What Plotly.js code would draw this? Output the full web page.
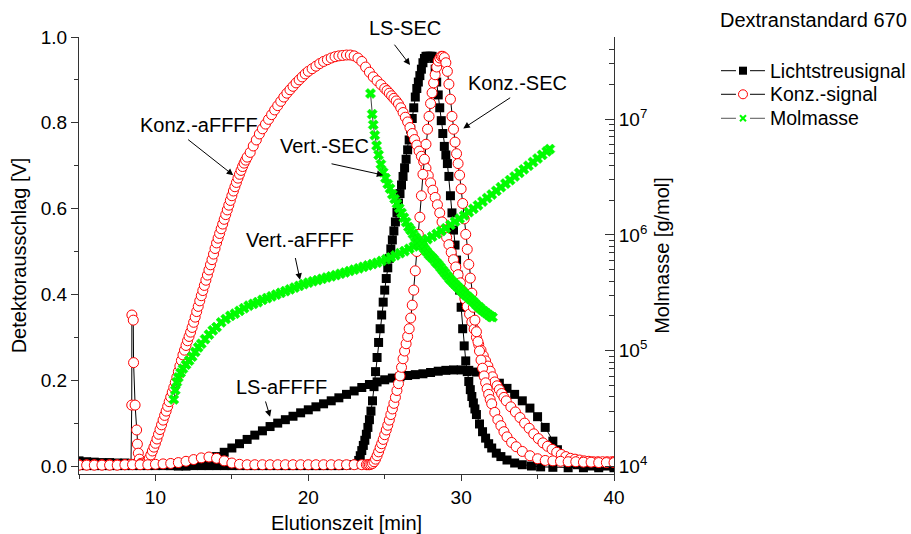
<!DOCTYPE html>
<html>
<head>
<meta charset="utf-8">
<script src="https://cdn.plot.ly/plotly-3.0.1.min.js"></script>
<style>html,body{margin:0;padding:0;background:#fff;}#chart{width:911px;height:534px;}</style>
</head>
<body>
<div id="chart"></div>
<script>
// ---------- data ----------
const seriesNames = ['Lichtstreusignal', 'Konz.-signal', 'Molmasse'];
const chartTitle = 'Dextranstandard 670';

// Light scattering, aFFFF run
const lsAfX = [5,5.5,6,6.5,7,7.5,8,8.5,9,9.5,10,10.5,11,11.5,12,12.5,13,13.5,14,14.5,15,15.5,16,16.5,17,17.5,18,18.5,19,19.5,20,20.5,21,21.5,22,22.5,23,23.5,24,24.5,25,25.5,26,26.5,27,27.5,28,28.5,29,29.5,30,30.5,31,31.5,32,32.5,33,33.5,34,34.5,35,35.5,36,36.3,36.6,36.9,37.2,37.6,38,38.5,39,39.5,40];
const lsAfY = [0.012,0.01,0.009,0.008,0.008,0.007,0.007,0.006,0.005,0.004,0.003,0.002,0.001,0.0,0.0,0.002,0.006,0.013,0.022,0.032,0.042,0.052,0.062,0.072,0.082,0.092,0.1,0.108,0.116,0.124,0.131,0.138,0.145,0.152,0.159,0.167,0.175,0.183,0.19,0.196,0.201,0.205,0.208,0.211,0.213,0.215,0.218,0.221,0.223,0.224,0.224,0.223,0.219,0.212,0.203,0.193,0.181,0.167,0.152,0.135,0.115,0.09,0.058,0.038,0.022,0.012,0.006,0.003,0.001,0.0,0.0,0.0,0.0];

// Light scattering, SEC run
const lsSecX = [5,5.5,6,6.5,7,7.5,8,8.5,9,9.5,10,10.5,11,11.5,12,12.5,13,13.5,14,14.5,15,15.5,16,16.5,17,17.5,18,18.5,19,19.5,20,20.5,21,21.5,22,22.5,23,23.2,23.3,23.4,23.5,23.6,23.7,23.8,23.9,24.0,24.1,24.2,24.3,24.4,24.5,24.6,24.7,24.8,24.9,25.0,25.1,25.2,25.3,25.4,25.5,25.6,25.7,25.8,25.9,26.0,26.1,26.2,26.3,26.4,26.5,26.6,26.7,26.8,26.9,27.0,27.1,27.2,27.3,27.4,27.5,27.6,27.7,27.8,27.9,28.0,28.1,28.2,28.3,28.4,28.5,28.6,28.7,28.8,28.9,29.0,29.1,29.2,29.3,29.4,29.5,29.6,29.7,29.8,29.9,30.0,30.1,30.2,30.3,30.4,30.5,30.6,30.7,30.8,30.9,31.0,31.2,31.4,31.6,31.8,32.0,32.3,32.6,33.0,33.5,34.0,34.6,35.2,36,37,38,39,40];
const lsSecY = [0.001,0.001,0.001,0.001,0.001,0.001,0.001,0.001,0.001,0.001,0.001,0.001,0.001,0.001,0.001,0.001,0.001,0.001,0.001,0.001,0.001,0.001,0.001,0.001,0.001,0.001,0.001,0.001,0.001,0.001,0.001,0.001,0.001,0.001,0.001,0.002,0.003,0.005,0.013,0.024,0.036,0.048,0.06,0.074,0.09,0.108,0.128,0.152,0.185,0.22,0.253,0.288,0.32,0.352,0.382,0.41,0.437,0.462,0.484,0.506,0.527,0.548,0.569,0.591,0.613,0.635,0.655,0.675,0.695,0.715,0.737,0.76,0.785,0.81,0.835,0.86,0.88,0.895,0.91,0.925,0.94,0.95,0.955,0.955,0.955,0.955,0.955,0.95,0.925,0.895,0.865,0.835,0.805,0.775,0.745,0.725,0.705,0.675,0.63,0.59,0.55,0.515,0.48,0.445,0.41,0.37,0.32,0.28,0.245,0.22,0.197,0.178,0.162,0.147,0.133,0.12,0.098,0.08,0.065,0.052,0.042,0.03,0.022,0.014,0.007,0.003,0.0,-0.002,-0.003,-0.004,-0.004,-0.004,-0.004];

// Concentration, aFFFF run (incl. void peak near 8.5 min)
const kAfX = [5,5.5,6,6.5,7,7.5,8,8.4,8.45,8.46,8.55,8.57,8.67,8.77,8.82,8.88,8.95,9.05,9.1,9.2,9.3,9.4,9.5,9.6,9.7,9.8,9.9,10.0,10.1,10.2,10.3,10.4,10.5,10.6,10.7,10.8,10.9,11.0,11.1,11.2,11.3,11.4,11.5,11.6,11.7,11.8,11.9,12.0,12.1,12.2,12.3,12.4,12.5,12.6,12.7,12.8,12.9,13.0,13.1,13.2,13.3,13.4,13.5,13.6,13.7,13.8,13.9,14.0,14.1,14.2,14.3,14.4,14.5,14.6,14.7,14.8,14.9,15.0,15.1,15.2,15.3,15.4,15.5,15.6,15.7,15.8,15.9,16.0,16.2,16.4,16.6,16.8,17.0,17.2,17.4,17.6,17.8,18.0,18.2,18.4,18.6,18.8,19.0,19.2,19.4,19.6,19.8,20.0,20.25,20.5,20.75,21.0,21.25,21.5,21.75,22.0,22.25,22.5,22.75,23.0,23.25,23.5,23.75,24.0,24.25,24.5,24.75,25.0,25.15,25.3,25.45,25.6,25.75,25.9,26.05,26.2,26.35,26.5,26.65,26.8,26.95,27.1,27.25,27.4,27.55,27.7,27.85,28.0,28.15,28.3,28.45,28.6,28.75,28.9,29.05,29.2,29.35,29.5,29.65,29.8,29.95,30.1,30.25,30.4,30.55,30.7,30.85,31.0,31.15,31.3,31.45,31.6,31.75,31.9,32.05,32.2,32.35,32.5,32.65,32.8,32.95,33.25,33.55,33.85,34.15,34.45,34.75,35.05,35.35,35.65,35.95,36.25,36.55,36.85,37.15,37.45,37.75,38.05,38.35,38.65,38.95,39.25,39.55,39.85,40.0];
const kAfY = [0.003,0.003,0.003,0.003,0.003,0.003,0.003,0.004,0.142,0.352,0.34,0.241,0.142,0.084,0.051,0.03,0.016,0.006,0.006,0.007,0.008,0.009,0.012,0.018,0.026,0.035,0.044,0.053,0.063,0.074,0.085,0.096,0.107,0.118,0.128,0.139,0.15,0.161,0.172,0.183,0.195,0.207,0.22,0.233,0.246,0.259,0.27,0.281,0.292,0.302,0.312,0.323,0.335,0.347,0.36,0.372,0.385,0.397,0.409,0.421,0.433,0.445,0.457,0.469,0.481,0.494,0.507,0.52,0.531,0.542,0.553,0.564,0.575,0.586,0.597,0.608,0.619,0.63,0.641,0.651,0.661,0.671,0.68,0.689,0.698,0.706,0.713,0.72,0.731,0.746,0.76,0.774,0.786,0.797,0.808,0.819,0.83,0.84,0.85,0.86,0.869,0.877,0.885,0.893,0.9,0.907,0.914,0.92,0.926,0.932,0.938,0.943,0.947,0.951,0.954,0.956,0.957,0.958,0.958,0.956,0.951,0.943,0.93,0.918,0.907,0.898,0.889,0.88,0.875,0.869,0.863,0.857,0.851,0.844,0.835,0.824,0.813,0.802,0.789,0.775,0.761,0.748,0.734,0.722,0.709,0.694,0.677,0.66,0.643,0.626,0.609,0.59,0.569,0.55,0.533,0.516,0.498,0.481,0.464,0.446,0.427,0.408,0.389,0.372,0.354,0.336,0.319,0.3,0.283,0.27,0.257,0.245,0.233,0.221,0.208,0.196,0.187,0.178,0.169,0.16,0.152,0.138,0.126,0.113,0.1,0.088,0.075,0.064,0.054,0.046,0.039,0.032,0.027,0.022,0.018,0.016,0.014,0.012,0.011,0.01,0.01,0.01,0.01,0.01,0.01];

// Concentration, SEC run
const kSecX = [5,5.5,6,6.5,7,7.5,8,8.5,9,9.5,10,10.5,11,11.5,12,12.5,13,13.5,14,14.5,15,15.5,16,16.5,17,17.5,18,18.5,19,19.5,20,20.5,21,21.5,22,22.5,23,23.5,23.8,23.9,24.0,24.1,24.2,24.3,24.4,24.5,24.6,24.7,24.8,24.9,25.0,25.1,25.2,25.3,25.4,25.5,25.6,25.7,25.8,25.9,26.0,26.1,26.2,26.3,26.4,26.5,26.6,26.7,26.8,26.9,27.0,27.1,27.2,27.3,27.4,27.5,27.6,27.7,27.8,27.9,28.0,28.1,28.2,28.3,28.4,28.5,28.6,28.7,28.8,28.9,29.0,29.1,29.2,29.3,29.4,29.5,29.6,29.7,29.8,29.9,30.0,30.1,30.2,30.3,30.4,30.5,30.6,30.7,30.8,30.9,31.0,31.1,31.2,31.3,31.4,31.5,31.6,31.7,31.8,31.9,32.0,32.2,32.4,32.6,32.8,33.0,33.3,33.6,34.0,34.5,35.0,35.5,36.0,36.5,37.0,37.5,38.0,38.5,39.0,39.5,40.0];
const kSecY = [0.002,0.002,0.002,0.002,0.002,0.002,0.003,0.003,0.003,0.003,0.004,0.005,0.006,0.008,0.011,0.015,0.019,0.021,0.018,0.012,0.007,0.004,0.003,0.003,0.003,0.003,0.003,0.003,0.003,0.003,0.003,0.003,0.003,0.003,0.003,0.003,0.003,0.003,0.003,0.003,0.003,0.004,0.006,0.01,0.016,0.024,0.033,0.043,0.052,0.062,0.073,0.084,0.095,0.107,0.12,0.133,0.146,0.16,0.176,0.192,0.21,0.23,0.25,0.268,0.285,0.302,0.32,0.345,0.375,0.41,0.455,0.5,0.54,0.58,0.63,0.68,0.715,0.75,0.785,0.815,0.845,0.87,0.893,0.912,0.93,0.944,0.951,0.955,0.955,0.952,0.94,0.92,0.89,0.855,0.815,0.785,0.755,0.728,0.705,0.678,0.646,0.612,0.576,0.54,0.505,0.47,0.438,0.403,0.37,0.34,0.313,0.29,0.268,0.247,0.228,0.21,0.194,0.18,0.167,0.155,0.145,0.125,0.108,0.094,0.08,0.068,0.055,0.045,0.034,0.024,0.017,0.013,0.012,0.011,0.01,0.01,0.009,0.009,0.008,0.008,0.008];

// Molar mass [g/mol], aFFFF run
const mAfX = [11.2,11.3,11.4,11.5,11.65,11.8,12.0,12.2,12.4,12.6,12.8,13.0,13.25,13.5,13.75,14.0,14.3,14.6,14.9,15.2,15.5,15.8,16.1,16.4,16.7,17.0,17.3,17.6,17.9,18.2,18.5,18.8,19.1,19.4,19.7,20.0,20.3,20.6,20.9,21.2,21.5,21.8,22.1,22.4,22.7,23.0,23.3,23.6,23.9,24.2,24.5,24.8,25.1,25.4,25.7,26.0,26.3,26.6,26.9,27.2,27.5,27.8,28.1,28.4,28.7,29.0,29.3,29.6,29.9,30.2,30.5,30.8,31.1,31.4,31.7,32.0,32.3,32.6,32.9,33.2,33.5,33.8,34.1,34.4,34.7,35.0,35.3,35.6,35.8];
const mAfY = [3.80e4,4.57e4,5.37e4,5.89e4,6.46e4,7.0e4,7.59e4,8.22e4,8.91e4,9.77e4,1.07e5,1.15e5,1.26e5,1.38e5,1.50e5,1.60e5,1.76e5,1.88e5,2.0e5,2.09e5,2.21e5,2.33e5,2.45e5,2.54e5,2.63e5,2.75e5,2.85e5,2.95e5,3.05e5,3.16e5,3.27e5,3.39e5,3.51e5,3.63e5,3.76e5,3.87e5,3.98e5,4.07e5,4.18e5,4.29e5,4.39e5,4.50e5,4.62e5,4.74e5,4.88e5,5.01e5,5.15e5,5.30e5,5.45e5,5.60e5,5.75e5,5.96e5,6.17e5,6.40e5,6.67e5,6.95e5,7.24e5,7.59e5,7.94e5,8.34e5,8.75e5,9.18e5,9.66e5,1.02e6,1.08e6,1.14e6,1.22e6,1.30e6,1.38e6,1.47e6,1.57e6,1.68e6,1.80e6,1.94e6,2.08e6,2.23e6,2.40e6,2.58e6,2.77e6,2.97e6,3.19e6,3.43e6,3.68e6,3.95e6,4.25e6,4.56e6,4.90e6,5.25e6,5.50e6];

// Molar mass [g/mol], SEC run
const mSecX = [24.07,24.18,24.25,24.35,24.47,24.6,24.75,24.9,25.05,25.2,25.35,25.5,25.65,25.8,25.95,26.1,26.25,26.4,26.55,26.7,26.85,27.0,27.15,27.3,27.45,27.6,27.75,27.9,28.05,28.2,28.35,28.5,28.65,28.8,28.95,29.1,29.25,29.4,29.55,29.7,29.85,30.0,30.15,30.3,30.45,30.6,30.75,30.9,31.05,31.2,31.35,31.5,31.65,31.8,31.95,32.05];
const mSecY = [1.66e7,1.10e7,8.91e6,7.24e6,5.89e6,4.90e6,4.07e6,3.47e6,3.09e6,2.75e6,2.51e6,2.24e6,2.04e6,1.86e6,1.70e6,1.55e6,1.41e6,1.29e6,1.17e6,1.10e6,1.02e6,9.55e5,9.02e5,8.51e5,8.04e5,7.59e5,7.16e5,6.76e5,6.46e5,6.17e5,5.82e5,5.56e5,5.25e5,4.95e5,4.68e5,4.42e5,4.17e5,3.98e5,3.80e5,3.63e5,3.47e5,3.31e5,3.16e5,3.02e5,2.92e5,2.79e5,2.69e5,2.57e5,2.45e5,2.37e5,2.26e5,2.19e5,2.11e5,2.04e5,1.97e5,1.95e5];

// Labels drawn in the plot
const noteTexts = ['LS-SEC', 'Konz.-SEC', 'Konz.-aFFFF', 'Vert.-SEC', 'Vert.-aFFFF', 'LS-aFFFF'];

// ---------- styling ----------
const FONT = 'Liberation Sans, Arial, Helvetica, sans-serif';
const lsStyle = {mode:'lines+markers', line:{color:'#000', width:1},
  marker:{symbol:'square', size:9, color:'#000', line:{width:0}}, yaxis:'y', showlegend:false};
const kStyle = {mode:'lines+markers', line:{color:'#000', width:1},
  marker:{symbol:'circle', size:10, color:'#fff', line:{color:'#ff0000', width:1}}, yaxis:'y', showlegend:false};
const mStyle = {mode:'lines+markers', line:{color:'#444', width:1},
  marker:{symbol:'x', size:9, color:'#00ff00', line:{color:'#00ee00', width:0.5}}, yaxis:'y2', showlegend:false};

const traces = [
  Object.assign({x:lsAfX, y:lsAfY, name:seriesNames[0]}, lsStyle),
  Object.assign({x:lsSecX, y:lsSecY, name:seriesNames[0]}, lsStyle),
  Object.assign({x:kAfX, y:kAfY, name:seriesNames[1]}, kStyle),
  Object.assign({x:kSecX, y:kSecY, name:seriesNames[1]}, kStyle),
  Object.assign({x:mAfX, y:mAfY, name:seriesNames[2]}, mStyle),
  Object.assign({x:mSecX, y:mSecY, name:seriesNames[2]}, mStyle)
];

// arrows: head position (data) + tail offset (px)
const arrowHeads = [[26.654,0.935,-16.7,-21.7],[30.14,0.787,48.4,-31.6],[15.09,0.678,-46.6,-36.7],[24.91,0.678,-53.3,-11.7],[19.46,0.434,-5,-23.3],[17.5,0.115,-5,-16.7]];
// text centres in paper coords
const textPos = [[0.6093,1.0206],[0.8187,0.8957],[0.2243,0.7986],[0.4598,0.7506],[0.4131,0.5355],[0.3776,0.1991]];

const annotations = [];
noteTexts.forEach((t,i)=>{
  annotations.push({xref:'paper', yref:'paper', x:textPos[i][0], y:textPos[i][1], text:t, showarrow:false,
    font:{family:FONT, size:20, color:'#000'}, xanchor:'center', yanchor:'middle'});
  const a = arrowHeads[i];
  annotations.push({xref:'x', yref:'y', x:a[0], y:a[1], ax:a[2], ay:a[3], text:'', showarrow:true,
    arrowhead:2, arrowsize:1.3, arrowwidth:1, arrowcolor:'#000'});
});
// title
annotations.push({xref:'paper', yref:'paper', x:1.3720, y:1.0389, text:chartTitle, showarrow:false,
  font:{family:FONT, size:20, color:'#000'}, xanchor:'center', yanchor:'middle'});

// ---------- hand-built legend (paper coords) ----------
const legRows = [0.9229, 0.8689, 0.8140];
const lx0 = 1.2000, lx1 = 1.2280, lx2 = 1.2542, lx3 = 1.2822, lxm = 1.2411, ltx = 1.2880;
const shapes = [];
const lineCols = ['#000', '#000', '#555'];
legRows.forEach((yy, i)=>{
  shapes.push({type:'line', xref:'paper', yref:'paper', x0:lx0, x1:lx1, y0:yy, y1:yy, line:{color:lineCols[i], width:1}});
  shapes.push({type:'line', xref:'paper', yref:'paper', x0:lx2, x1:lx3, y0:yy, y1:yy, line:{color:lineCols[i], width:1}});
  annotations.push({xref:'paper', yref:'paper', x:ltx, y:yy, text:seriesNames[i], showarrow:false,
    font:{family:FONT, size:19.5, color:'#000'}, xanchor:'left', yanchor:'middle'});
});
shapes.push({type:'rect', xref:'paper', yref:'paper', x0:lxm-0.0075, x1:lxm+0.0075, y0:legRows[0]-0.0092, y1:legRows[0]+0.0092,
  fillcolor:'#000', line:{width:0}});
shapes.push({type:'circle', xref:'paper', yref:'paper', x0:lxm-0.0084, x1:lxm+0.0084, y0:legRows[1]-0.0103, y1:legRows[1]+0.0103,
  fillcolor:'#fff', line:{color:'#ff0000', width:1}});
shapes.push({type:'line', xref:'paper', yref:'paper', x0:lxm-0.0056, x1:lxm+0.0056, y0:legRows[2]-0.0069, y1:legRows[2]+0.0069, line:{color:'#00ff00', width:2}});
shapes.push({type:'line', xref:'paper', yref:'paper', x0:lxm-0.0056, x1:lxm+0.0056, y0:legRows[2]+0.0069, y1:legRows[2]-0.0069, line:{color:'#00ff00', width:2}});

const minorLog = [];
[1e4,1e5,1e6,1e7].forEach(d=>{[2,3,4,5,6,7,8,9].forEach(m=>minorLog.push(m*d));});

const layout = {
  width:911, height:534,
  margin:{l:79, r:297, t:37, b:60, pad:0},
  paper_bgcolor:'#fff', plot_bgcolor:'#fff',
  font:{family:FONT, size:19, color:'#000'},
  showlegend:false,
  xaxis:{range:[5,40], tickvals:[10,20,30,40], ticks:'outside', ticklen:6, tickwidth:1, tickcolor:'#333',
    showline:true, linecolor:'#333', linewidth:1, zeroline:false, showgrid:false,
    minor:{tickvals:[5,15,25,35], ticks:'outside', ticklen:4, tickcolor:'#333', showgrid:false},
    tickfont:{size:19}, title:{text:'Elutionszeit [min]', font:{size:20}, standoff:10}},
  yaxis:{range:[-0.0186,1.0], tickvals:[0,0.2,0.4,0.6,0.8,1.0], tickformat:'.1f', ticks:'outside', ticklen:7, tickwidth:1, tickcolor:'#333',
    showline:true, linecolor:'#333', linewidth:1, zeroline:false, showgrid:false,
    minor:{tickvals:[0.1,0.3,0.5,0.7,0.9], ticks:'outside', ticklen:4, tickcolor:'#333', showgrid:false},
    tickfont:{size:19}, title:{text:'Detektorausschlag [V]', font:{size:20}, standoff:8}},
  yaxis2:{type:'log', overlaying:'y', side:'right', range:[3.937,7.7075],
    tickvals:[1e4,1e5,1e6,1e7], ticktext:['10<sup>4</sup>','10<sup>5</sup>','10<sup>6</sup>','10<sup>7</sup>'],
    ticks:'inside', ticklen:9, tickwidth:1, tickcolor:'#333', showline:true, linecolor:'#333', linewidth:1,
    zeroline:false, showgrid:false,
    minor:{tickvals:minorLog, ticks:'inside', ticklen:5, tickcolor:'#333', showgrid:false},
    tickfont:{size:19}, title:{text:'Molmasse [g/mol]', font:{size:20}, standoff:8}},
  annotations:annotations,
  shapes:shapes
};

Plotly.newPlot('chart', traces, layout, {staticPlot:true, displayModeBar:false});
</script>
</body>
</html>
